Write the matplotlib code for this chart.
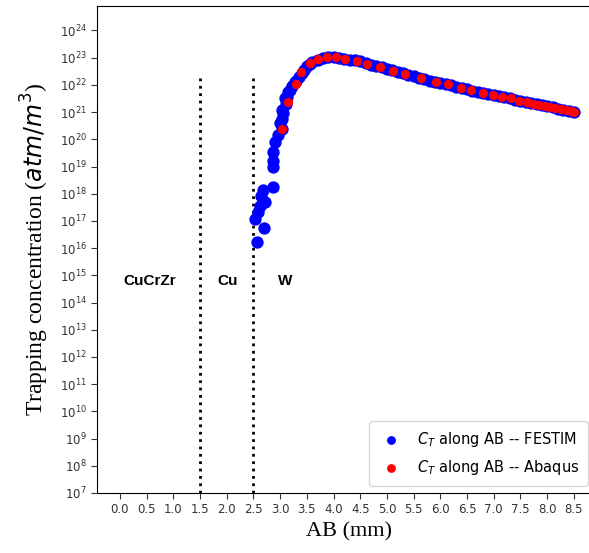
import numpy as np
import matplotlib
matplotlib.use("Agg")
from matplotlib import pyplot as plt

# FESTIM (blue) - x in mm, log10 of trapping concentration
festim_x = [2.56, 2.70, 2.53, 2.59, 2.62, 2.72, 2.65, 2.68, 2.87, 2.86, 2.86,
            2.87, 2.90, 2.96, 3.00, 3.03, 3.03, 3.05, 3.03, 3.09, 3.10, 3.12,
            3.15, 3.18, 3.22, 3.27, 3.35, 3.45, 3.55,
            3.3, 3.4, 3.5, 3.6, 3.7, 3.8, 3.9, 4.0, 4.1, 4.2, 4.3, 4.4, 4.5,
            4.6, 4.7, 4.8, 4.9, 5.0, 5.1, 5.2, 5.3, 5.4, 5.5, 5.6, 5.7, 5.8,
            5.9, 6.0, 6.1, 6.2, 6.3, 6.4, 6.5, 6.6, 6.7, 6.8, 6.9, 7.0, 7.1,
            7.2, 7.3, 7.4, 7.5, 7.6, 7.7, 7.8, 7.9, 8.0, 8.1, 8.2, 8.3, 8.4, 8.5]
festim_log = [16.23, 16.73, 17.07, 17.32, 17.56, 17.69, 17.93, 18.12, 18.24, 18.97, 19.22,
              19.52, 19.89, 20.14, 20.60, 20.39, 20.76, 20.95, 21.07, 21.50, 21.30, 21.55,
              21.74, 21.80, 21.95, 22.10, 22.30, 22.55, 22.77,
              22.15, 22.45, 22.70, 22.83, 22.93, 22.99, 23.02, 23.02, 23.00, 22.96,
              22.93, 22.90, 22.86, 22.79, 22.74, 22.70, 22.65, 22.59, 22.53, 22.48,
              22.42, 22.37, 22.31, 22.25, 22.21, 22.16, 22.12, 22.08, 22.03, 21.98,
              21.93, 21.88, 21.84, 21.79, 21.74, 21.69, 21.65, 21.61, 21.58, 21.54,
              21.50, 21.46, 21.42, 21.38, 21.33, 21.29, 21.25, 21.21, 21.17, 21.13,
              21.09, 21.05, 21.02]

# Abaqus (red)
abaqus_x = [3.03, 3.15, 3.29, 3.39, 3.56, 3.71, 3.88, 4.04, 4.21, 4.43, 4.62,
            4.86, 5.11, 5.34, 5.63, 5.91, 6.14, 6.38, 6.58, 6.79, 6.98, 7.15,
            7.32, 7.48, 7.62, 7.74, 7.85, 7.95, 8.05, 8.15, 8.25, 8.35, 8.45, 8.5]
abaqus_log = [20.39, 21.38, 22.03, 22.49, 22.79, 22.95, 23.01, 23.01, 22.95, 22.89,
              22.77, 22.67, 22.52, 22.40, 22.24, 22.12, 22.02, 21.89, 21.80, 21.69,
              21.62, 21.56, 21.50, 21.42, 21.38, 21.31, 21.27, 21.23, 21.20, 21.16,
              21.12, 21.08, 21.04, 21.02]

interfaces = [1.5, 2.5]
regions = ["CuCrZr", "Cu", "W"]
region_x = [0.56, 2.02, 3.09]

fig = plt.figure(figsize=(5.89, 5.53), dpi=100)
ax = fig.add_axes([0.1647, 0.1085, 0.855, 0.8807])

ax.scatter(festim_x, 10 ** np.array(festim_log), s=62, color='blue',
           label=r'$C_T$ along AB -- FESTIM', zorder=3)
ax.scatter(abaqus_x, 10 ** np.array(abaqus_log), s=32, color='red',
           label=r'$C_T$ along AB -- Abaqus', zorder=4)

ax.vlines(interfaces, 1e7, 2e22, colors='black', linestyles=':', linewidth=2)
for name, xx in zip(regions, region_x):
    ax.text(xx, 10 ** 14.8, name, ha='center', va='center', fontsize=11,
            fontweight='bold', family='Liberation Sans')

ax.set_yscale('log')
ax.set_ylim(1e7, 10 ** 24.9)
ax.set_xlim(-0.43, 9.0)
ax.set_xticks(np.arange(0, 8.51, 0.5))
ax.set_yticks([10.0 ** k for k in range(7, 25)])
ax.minorticks_off()
ax.tick_params(axis='both', labelsize=8.5, length=4, colors='#333333')

ax.set_xlabel('AB (mm)', family='Liberation Serif', fontsize=16)
ax.set_ylabel(r'Trapping concentration ($atm/m^3$)', family='Liberation Serif',
              fontsize=17, labelpad=6)

leg = ax.legend(loc='lower right', bbox_to_anchor=(0.99, 0.0), fontsize=10.5,
                borderpad=0.6, labelspacing=0.6,
                handletextpad=0.9, handlelength=1.8)
for h in leg.legend_handles:
    h.set_sizes([28])

plt.savefig('out.png', dpi=100)
